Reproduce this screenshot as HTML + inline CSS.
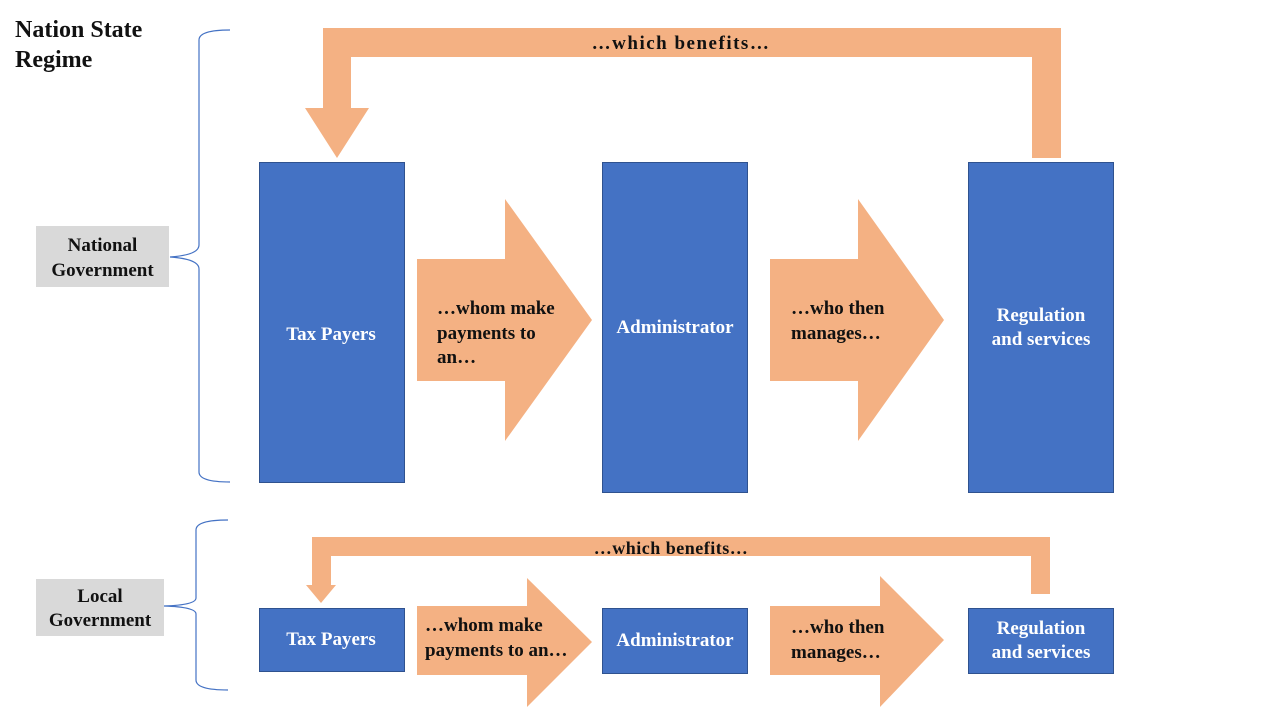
<!DOCTYPE html>
<html><head><meta charset="utf-8"><style>
html,body{margin:0;padding:0;background:#fff;}
svg{display:block;}
text{font-family:"Liberation Serif",serif;font-weight:bold;font-size:19px;}
.w{fill:#fff;}
.b{fill:#111;}
</style></head><body>
<svg width="1280" height="720" viewBox="0 0 1280 720" xmlns="http://www.w3.org/2000/svg">
<text x="15" y="37" style="font-size:24px" class="b">Nation State</text>
<text x="15" y="67" style="font-size:24px" class="b">Regime</text>

<path d="M230,30 Q199,30 199,40 L199,245 Q199,255 170,257 Q199,259 199,269 L199,472 Q199,482 230,482" fill="none" stroke="#4472C4" stroke-width="1.2"/>
<path d="M228,520 Q196,520 196,530 L196,598 Q196,605 164,606 Q196,607 196,614 L196,680 Q196,690 228,690" fill="none" stroke="#4472C4" stroke-width="1.2"/>

<rect x="36" y="226" width="133" height="61" fill="#D9D9D9"/>
<text x="102.5" y="251" text-anchor="middle" class="b">National</text>
<text x="102.5" y="276" text-anchor="middle" class="b">Government</text>
<rect x="36" y="579" width="128" height="57" fill="#D9D9D9"/>
<text x="100" y="602" text-anchor="middle" class="b">Local</text>
<text x="100" y="626" text-anchor="middle" class="b">Government</text>

<path d="M1061,28 L1061,158 L1032,158 L1032,57 L351,57 L351,108 L369,108 L337,158 L305,108 L323,108 L323,28 Z" fill="#F4B183"/>
<text x="681" y="49" text-anchor="middle" class="b" style="letter-spacing:1.5px">…which benefits…</text>

<g fill="#4472C4" stroke="#2F528F" stroke-width="1">
<rect x="259.5" y="162.5" width="145" height="320"/>
<rect x="602.5" y="162.5" width="145" height="330"/>
<rect x="968.5" y="162.5" width="145" height="330"/>
<rect x="259.5" y="608.5" width="145" height="63"/>
<rect x="602.5" y="608.5" width="145" height="65"/>
<rect x="968.5" y="608.5" width="145" height="65"/>
</g>

<path d="M417,259 L505,259 L505,199 L592,320 L505,441 L505,381 L417,381 Z" fill="#F4B183"/>
<path d="M770,259 L858,259 L858,199 L944,320 L858,441 L858,381 L770,381 Z" fill="#F4B183"/>

<text x="331" y="340" text-anchor="middle" class="w">Tax Payers</text>
<text x="437" y="314" class="b">…whom make</text>
<text x="437" y="339" class="b">payments to</text>
<text x="437" y="363" class="b">an…</text>
<text x="675" y="333" text-anchor="middle" class="w">Administrator</text>
<text x="791" y="314" class="b">…who then</text>
<text x="791" y="339" class="b">manages…</text>
<text x="1041" y="321" text-anchor="middle" class="w">Regulation</text>
<text x="1041" y="345" text-anchor="middle" class="w">and services</text>

<path d="M1050,537 L1050,594 L1031,594 L1031,556 L331,556 L331,585 L336,585 L321,603 L306,585 L312,585 L312,537 Z" fill="#F4B183"/>
<text x="671" y="554" text-anchor="middle" class="b" style="font-size:18px;letter-spacing:0.5px">…which benefits…</text>

<path d="M417,606 L527,606 L527,578 L592,642 L527,707 L527,675 L417,675 Z" fill="#F4B183"/>
<path d="M770,606 L880,606 L880,576 L944,640 L880,707 L880,675 L770,675 Z" fill="#F4B183"/>

<text x="331" y="645" text-anchor="middle" class="w">Tax Payers</text>
<text x="425" y="631" class="b">…whom make</text>
<text x="425" y="656" class="b">payments to an…</text>
<text x="675" y="646" text-anchor="middle" class="w">Administrator</text>
<text x="791" y="633" class="b">…who then</text>
<text x="791" y="658" class="b">manages…</text>
<text x="1041" y="634" text-anchor="middle" class="w">Regulation</text>
<text x="1041" y="658" text-anchor="middle" class="w">and services</text>
</svg>
</body></html>
